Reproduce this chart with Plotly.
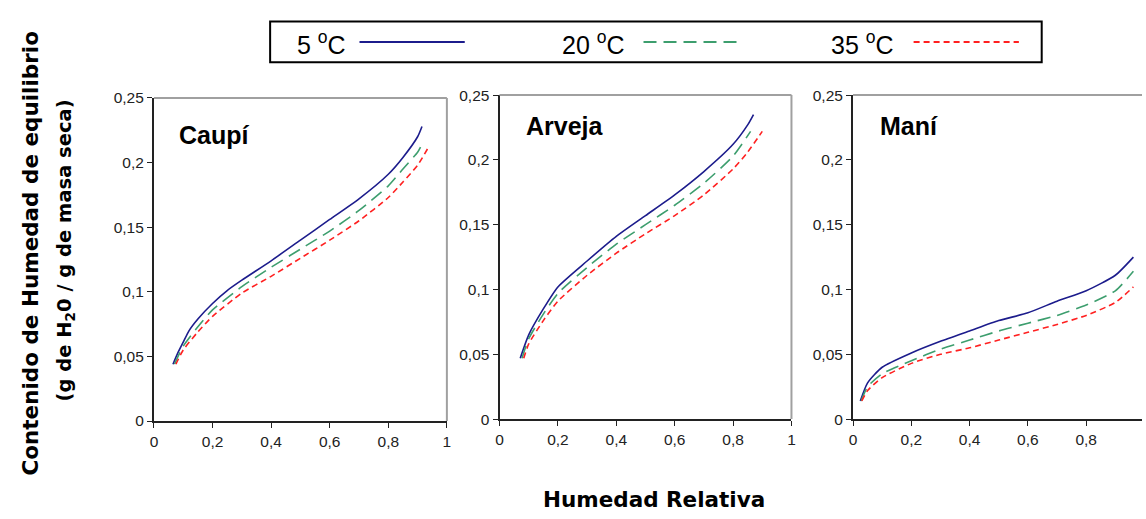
import plotly.graph_objects as go

W, H = 1146, 519

# --- data ------------------------------------------------------------------
caupi_x_5 = [0.065, 0.08, 0.10, 0.12, 0.15, 0.20, 0.25, 0.30, 0.40, 0.50, 0.60, 0.70, 0.80, 0.85, 0.90, 0.915]
caupi_y_5 = [0.044, 0.052, 0.061, 0.070, 0.079, 0.091, 0.101, 0.109, 0.124, 0.140, 0.156, 0.172, 0.191, 0.204, 0.220, 0.228]
caupi_x_20 = [0.07, 0.10, 0.15, 0.20, 0.30, 0.40, 0.50, 0.60, 0.70, 0.80, 0.85, 0.90, 0.91]
caupi_y_20 = [0.044, 0.058, 0.073, 0.086, 0.104, 0.119, 0.133, 0.147, 0.163, 0.182, 0.195, 0.208, 0.212]
caupi_x_35 = [0.075, 0.10, 0.15, 0.20, 0.30, 0.40, 0.50, 0.60, 0.70, 0.80, 0.85, 0.90, 0.94]
caupi_y_35 = [0.044, 0.055, 0.069, 0.081, 0.099, 0.112, 0.126, 0.140, 0.155, 0.173, 0.185, 0.198, 0.213]

arveja_x_5 = [0.071, 0.10, 0.15, 0.20, 0.30, 0.40, 0.50, 0.60, 0.70, 0.80, 0.85, 0.87]
arveja_y_5 = [0.047, 0.065, 0.085, 0.102, 0.122, 0.141, 0.157, 0.173, 0.191, 0.212, 0.227, 0.235]
arveja_x_20 = [0.077, 0.10, 0.15, 0.20, 0.30, 0.40, 0.50, 0.60, 0.70, 0.80, 0.86]
arveja_y_20 = [0.047, 0.062, 0.081, 0.097, 0.117, 0.135, 0.150, 0.165, 0.182, 0.203, 0.222]
arveja_x_35 = [0.083, 0.10, 0.15, 0.20, 0.30, 0.40, 0.50, 0.60, 0.70, 0.80, 0.85, 0.90]
arveja_y_35 = [0.047, 0.058, 0.076, 0.091, 0.111, 0.128, 0.143, 0.157, 0.173, 0.193, 0.206, 0.222]

mani_x_5 = [0.025, 0.05, 0.10, 0.20, 0.30, 0.40, 0.50, 0.60, 0.70, 0.80, 0.90, 0.962]
mani_y_5 = [0.014, 0.028, 0.040, 0.051, 0.060, 0.068, 0.076, 0.082, 0.091, 0.099, 0.111, 0.125]
mani_x_20 = [0.028, 0.05, 0.10, 0.20, 0.30, 0.40, 0.50, 0.60, 0.70, 0.80, 0.90, 0.962]
mani_y_20 = [0.014, 0.025, 0.035, 0.045, 0.054, 0.061, 0.068, 0.074, 0.080, 0.088, 0.099, 0.114]
mani_x_35 = [0.03, 0.05, 0.10, 0.20, 0.30, 0.40, 0.50, 0.60, 0.70, 0.80, 0.90, 0.962]
mani_y_35 = [0.014, 0.022, 0.032, 0.043, 0.050, 0.055, 0.061, 0.067, 0.073, 0.080, 0.090, 0.102]

panel_names = ["Caupí", "Arveja", "Maní"]
series_names = ["5 <sup>o</sup>C", "20 <sup>o</sup>C", "35 <sup>o</sup>C"]
y_ticks = [0, 0.05, 0.1, 0.15, 0.2, 0.25]
y_tick_text = ["0", "0,05", "0,1", "0,15", "0,2", "0,25"]
x_ticks = [0, 0.2, 0.4, 0.6, 0.8, 1]
x_tick_text = ["0", "0,2", "0,4", "0,6", "0,8", "1"]

panels = [
    [(caupi_x_5, caupi_y_5), (caupi_x_20, caupi_y_20), (caupi_x_35, caupi_y_35)],
    [(arveja_x_5, arveja_y_5), (arveja_x_20, arveja_y_20), (arveja_x_35, arveja_y_35)],
    [(mani_x_5, mani_y_5), (mani_x_20, mani_y_20), (mani_x_35, mani_y_35)],
]

colors = ["#1c1c8c", "#3d9e6e", "#ff2020"]
dashes = [None, "13px,7px", "6px,4px"]


def px(x):
    # screen pixel -> paper fraction
    return x / W


def py(y):
    return 1 - y / H


# screen-pixel boxes (left, right, top, bottom) of each plot area
boxes = [(151, 446, 92, 426), (499, 793, 89, 424), (855, 1146, 89, 424)]
x_ranges = [[0, 1], [0, 1], [0, (1146 - 855) / 293.5]]

fig = go.Figure()

for i, (series, box) in enumerate(zip(panels, boxes)):
    xa = "x" if i == 0 else f"x{i + 1}"
    ya = "y" if i == 0 else f"y{i + 1}"
    for j, (xs, ys) in enumerate(series):
        fig.add_trace(go.Scatter(
            x=xs, y=ys, mode="lines", name=series_names[j],
            line=dict(color=colors[j], width=1.6, dash=dashes[j], shape="spline", smoothing=0.6),
            xaxis=xa, yaxis=ya, showlegend=False,
        ))

    l, r, t, b = box
    axis_font = dict(family="Liberation Sans, Arial", size=15.5, color="#222")
    fig.layout[f"xaxis{'' if i == 0 else i + 1}"] = dict(
        domain=[px(l), px(r)], range=x_ranges[i], anchor=ya,
        tickvals=x_ticks, ticktext=x_tick_text, ticks="outside", ticklen=5,
        tickcolor="#222", showline=True, linecolor="#222", linewidth=2,
        showgrid=False, zeroline=False, tickfont=axis_font,
    )
    fig.layout[f"yaxis{'' if i == 0 else i + 1}"] = dict(
        domain=[py(b), py(t)], range=[0, 0.25], anchor=xa,
        tickvals=y_ticks, ticktext=y_tick_text, ticks="outside", ticklen=5,
        tickcolor="#222", showline=True, linecolor="#222", linewidth=2,
        showgrid=False, zeroline=False, tickfont=axis_font,
    )

    # grey frame on top and right, like the spreadsheet chart area
    fig.add_shape(type="line", xref=f"{xa} domain", yref=f"{ya} domain",
                  x0=0, x1=1, y0=1, y1=1, line=dict(color="#a0a0a0", width=2))
    if i < 2:
        fig.add_shape(type="line", xref=f"{xa} domain", yref=f"{ya} domain",
                      x0=1, x1=1, y0=0, y1=1, line=dict(color="#a0a0a0", width=2))

    fig.add_annotation(
        text=f"<b>{panel_names[i]}</b>", xref=f"{xa} domain", yref=f"{ya} domain",
        x=0.08 if i == 0 else 0.085, y=0.885 if i == 0 else 0.905,
        xanchor="left", yanchor="middle", showarrow=False,
        font=dict(family="Liberation Sans, Arial", size=25, color="#000"),
    )

# legend box drawn by hand
fig.add_shape(type="rect", xref="paper", yref="paper",
              x0=px(268), x1=px(1045), y0=py(55), y1=py(13),
              line=dict(color="#000", width=2), fillcolor="white")
legend_text_x = [293, 560, 831]
legend_line_x = [(358, 464), (644, 742), (916, 1022)]
for j in range(3):
    fig.add_annotation(
        text=series_names[j], xref="paper", yref="paper",
        x=px(legend_text_x[j]), y=py(35), xanchor="left", yanchor="middle",
        showarrow=False, font=dict(family="Liberation Sans, Arial", size=25, color="#000"),
    )
    fig.add_shape(type="line", xref="paper", yref="paper",
                  x0=px(legend_line_x[j][0]), x1=px(legend_line_x[j][1]), y0=py(34), y1=py(34),
                  line=dict(color=colors[j], width=2, dash=dashes[j]))

fig.add_annotation(text="<b>Humedad Relativa</b>", xref="paper", yref="paper",
                   x=px(655), y=py(507), xanchor="center", yanchor="middle",
                   showarrow=False, font=dict(family="DejaVu Sans, Verdana", size=21.5, color="#000"))
fig.add_annotation(text="<b>Contenido de Humedad de equilibrio</b>", xref="paper", yref="paper",
                   x=px(27), y=py(252), xanchor="center", yanchor="middle", textangle=-90,
                   showarrow=False, font=dict(family="DejaVu Sans, Verdana", size=21.5, color="#000"))
fig.add_annotation(text="<b>(g de H<sub>2</sub>0 / g de masa seca)</b>", xref="paper", yref="paper",
                   x=px(62), y=py(250), xanchor="center", yanchor="middle", textangle=-90,
                   showarrow=False, font=dict(family="DejaVu Sans, Verdana", size=19.5, color="#000"))

fig.update_layout(
    width=W, height=H,
    margin=dict(l=0, r=0, t=0, b=0),
    paper_bgcolor="white", plot_bgcolor="white",
    showlegend=False,
)

# pin the figure to the window corner so the page margin does not shift it
pin = (
    "var gd = document.getElementById('{plot_id}');"
    "gd.style.position = 'fixed'; gd.style.left = '0px'; gd.style.top = '0px';"
    "document.body.style.margin = '0'; document.documentElement.style.overflow = 'hidden';"
)
fig.write_html("out.html", config={"displayModeBar": False}, post_script=pin)
